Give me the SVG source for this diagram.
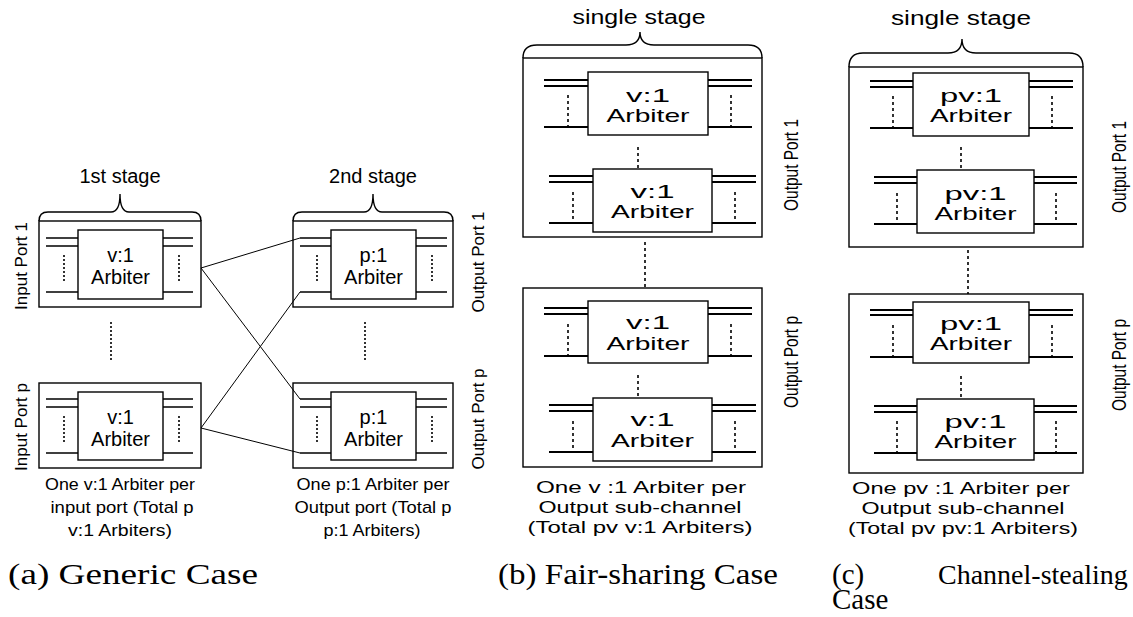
<svg xmlns="http://www.w3.org/2000/svg" width="1133" height="617" viewBox="0 0 1133 617">
<style>
.bg{fill:#fff}
.box{fill:none;stroke:#000;stroke-width:1.4}
.arb{fill:#fff;stroke:#000;stroke-width:1.4}
.ln{fill:none;stroke:#000;stroke-width:1.6}
.lnb{fill:none;stroke:#000;stroke-width:2}
.dot{fill:none;stroke:#000;stroke-width:1.6;stroke-dasharray:2 2}
.dotb{fill:none;stroke:#000;stroke-width:1.6;stroke-dasharray:3 3}
.brace{fill:none;stroke:#000;stroke-width:1.4}
.conn{fill:none;stroke:#000;stroke-width:1}
text{font-family:"Liberation Sans",Arial,sans-serif;fill:#000}
.ta{font-size:20px;text-anchor:middle}
.tb{font-size:19px;text-anchor:middle}
.st{font-size:20px;text-anchor:middle}
.pl{font-size:17px;text-anchor:middle}
.pq{font-size:21px;text-anchor:middle}
.ds{font-size:17px;text-anchor:middle}
.dsb{font-size:16px;text-anchor:middle}
.cap{font-family:"Liberation Serif","Times New Roman",serif;font-size:29px}
</style>
<rect class="bg" x="0" y="0" width="1133" height="617"/>

<!-- Panel (a) -->
<g id="a-stage1-label">
<path class="brace" d="M39,221 Q39,212 48,212 L111,212 Q120,212 120,194 Q120,212 129,212 L192,212 Q201,212 201,221"/>
<text class="st" x="120" y="183">1st stage</text>
</g>
<g id="a-stage2-label">
<path class="brace" d="M293,221 Q293,212 302,212 L364,212 Q373,212 373,194 Q373,212 382,212 L444,212 Q453,212 453,221"/>
<text class="st" x="373" y="183">2nd stage</text>
</g>

<g id="a-in1">
<rect class="box" x="39" y="221" width="162" height="86"/>
<path class="ln" d="M46,238H78M46,246H78M46,292H78M163,238H193M163,246H193M163,292H193"/>
<path class="dot" d="M64,255V283M179,255V283"/>
<rect class="arb" x="78" y="230" width="85" height="69"/>
<text class="ta" x="120.5" y="262">v:1</text>
<text class="ta" x="120.5" y="284">Arbiter</text>
<text class="pl" transform="translate(27,266) rotate(-90)">Input Port 1</text>
</g>
<g id="a-inp">
<rect class="box" x="39" y="383" width="162" height="85"/>
<path class="ln" d="M46,399H78M46,407H78M46,453H78M163,399H193M163,407H193M163,453H193"/>
<path class="dot" d="M64,416V444M179,416V444"/>
<rect class="arb" x="78" y="392" width="85" height="68"/>
<text class="ta" x="120.5" y="424">v:1</text>
<text class="ta" x="120.5" y="446">Arbiter</text>
<text class="pl" transform="translate(27,427) rotate(-90)">Input Port p</text>
</g>
<g id="a-out1">
<rect class="box" x="293" y="221" width="160" height="86"/>
<path class="ln" d="M300,238H331M300,246H331M300,292H331M416,238H447M416,246H447M416,292H447"/>
<path class="dot" d="M317,255V283M432,255V283"/>
<rect class="arb" x="331" y="230" width="85" height="69"/>
<text class="ta" x="373.5" y="262">p:1</text>
<text class="ta" x="373.5" y="284">Arbiter</text>
<text class="pl" transform="translate(484,262) rotate(-90)">Output Port 1</text>
</g>
<g id="a-outp">
<rect class="box" x="293" y="383" width="160" height="85"/>
<path class="ln" d="M300,399H331M300,407H331M300,453H331M416,399H447M416,407H447M416,453H447"/>
<path class="dot" d="M317,416V444M432,416V444"/>
<rect class="arb" x="331" y="392" width="85" height="68"/>
<text class="ta" x="373.5" y="424">p:1</text>
<text class="ta" x="373.5" y="446">Arbiter</text>
<text class="pl" transform="translate(484,419) rotate(-90)">Output Port p</text>
</g>
<g id="a-ellipsis">
<path class="dot" d="M111,322V360M365,322V360"/>
</g>
<g id="a-desc">
<text class="ds" x="120" y="490" textLength="150" lengthAdjust="spacingAndGlyphs">One v:1 Arbiter per</text>
<text class="ds" x="122" y="513" textLength="143" lengthAdjust="spacingAndGlyphs">input port (Total p</text>
<text class="ds" x="120" y="536" textLength="104" lengthAdjust="spacingAndGlyphs">v:1 Arbiters)</text>
<text class="ds" x="373" y="490" textLength="153" lengthAdjust="spacingAndGlyphs">One p:1 Arbiter per</text>
<text class="ds" x="373" y="513" textLength="157" lengthAdjust="spacingAndGlyphs">Output port (Total p</text>
<text class="ds" x="372" y="536" textLength="97" lengthAdjust="spacingAndGlyphs">p:1 Arbiters)</text>
</g>

<!-- connectors -->
<g id="connectors">
<line class="conn" x1="201" y1="268" x2="300" y2="238"/>
<line class="conn" x1="201" y1="268" x2="300" y2="399"/>
<line class="conn" x1="201" y1="428" x2="300" y2="292"/>
<line class="conn" x1="201" y1="428" x2="300" y2="453"/>
</g>

<!-- Panel (b) -->
<g id="b-label">
<path class="brace" d="M523,58 Q523,45 537,45 L626,45 Q640,45 640,32 Q640,45 654,45 L748,45 Q762,45 762,58"/>
<text class="st" x="639" y="24" textLength="133" lengthAdjust="spacingAndGlyphs">single stage</text>
</g>
<g id="b-port1">
<rect class="box" x="523" y="58" width="239" height="179"/>
<path class="dotb" d="M638,147V169"/>
<text class="pq" transform="translate(798,165) rotate(-90)" textLength="92" lengthAdjust="spacingAndGlyphs">Output Port 1</text>
</g>
<g id="b-arb1">
<path class="lnb" d="M544,80H588M544,86H588M544,127H588M708,80H752M708,86H752M708,127H752"/>
<path class="dotb" d="M568,95V127M731,95V127"/>
<rect class="arb" x="588" y="72" width="120" height="63"/>
<text class="tb" x="648" y="102" textLength="44" lengthAdjust="spacingAndGlyphs">v:1</text>
<text class="tb" x="648" y="122" textLength="83" lengthAdjust="spacingAndGlyphs">Arbiter</text>
</g>
<g id="b-arb2">
<path class="lnb" d="M549,176H593M549,182H593M549,223H593M712,176H756M712,182H756M712,223H756"/>
<path class="dotb" d="M573,192V223M735,192V223"/>
<rect class="arb" x="593" y="169" width="119" height="63"/>
<text class="tb" x="652.5" y="198" textLength="44" lengthAdjust="spacingAndGlyphs">v:1</text>
<text class="tb" x="652.5" y="218" textLength="83" lengthAdjust="spacingAndGlyphs">Arbiter</text>
</g>
<g id="b-ellipsis">
<path class="dotb" d="M645,242V288"/>
</g>
<g id="b-portp">
<rect class="box" x="523" y="288" width="239" height="179"/>
<path class="dotb" d="M638,375V397"/>
<text class="pq" transform="translate(798,362) rotate(-90)" textLength="92" lengthAdjust="spacingAndGlyphs">Output Port p</text>
</g>
<g id="b-arb3">
<path class="lnb" d="M544,308H588M544,314H588M544,356H588M708,308H752M708,314H752M708,356H752"/>
<path class="dotb" d="M568,324V356M731,324V356"/>
<rect class="arb" x="588" y="301" width="120" height="62"/>
<text class="tb" x="648" y="329" textLength="44" lengthAdjust="spacingAndGlyphs">v:1</text>
<text class="tb" x="648" y="350" textLength="83" lengthAdjust="spacingAndGlyphs">Arbiter</text>
</g>
<g id="b-arb4">
<path class="lnb" d="M549,405H593M549,411H593M549,452H593M712,405H756M712,411H756M712,452H756"/>
<path class="dotb" d="M573,421V452M735,421V452"/>
<rect class="arb" x="593" y="398" width="119" height="63"/>
<text class="tb" x="652.5" y="426" textLength="44" lengthAdjust="spacingAndGlyphs">v:1</text>
<text class="tb" x="652.5" y="447" textLength="83" lengthAdjust="spacingAndGlyphs">Arbiter</text>
</g>
<g id="b-desc">
<text class="dsb" x="641" y="493" textLength="210" lengthAdjust="spacingAndGlyphs">One v :1 Arbiter per</text>
<text class="dsb" x="640" y="513" textLength="203" lengthAdjust="spacingAndGlyphs">Output sub-channel</text>
<text class="dsb" x="640" y="533" textLength="225" lengthAdjust="spacingAndGlyphs">(Total pv v:1 Arbiters)</text>
</g>

<!-- Panel (c) -->
<g id="c-label">
<path class="brace" d="M849,67 Q849,53 863,53 L948,53 Q962,53 962,39 Q962,53 976,53 L1069,53 Q1083,53 1083,67"/>
<text class="st" x="961" y="25" textLength="140" lengthAdjust="spacingAndGlyphs">single stage</text>
</g>
<g id="c-port1">
<rect class="box" x="849" y="67" width="234" height="180"/>
<path class="dotb" d="M961,147V169"/>
<text class="pq" transform="translate(1126,167) rotate(-90)" textLength="92" lengthAdjust="spacingAndGlyphs">Output Port 1</text>
</g>
<g id="c-arb1">
<path class="lnb" d="M870,81H913M870,87H913M870,128H913M1029,81H1073M1029,87H1073M1029,128H1073"/>
<path class="dotb" d="M893,96V128M1052,96V128"/>
<rect class="arb" x="913" y="73" width="116" height="63"/>
<text class="tb" x="971" y="102" textLength="62" lengthAdjust="spacingAndGlyphs">pv:1</text>
<text class="tb" x="971" y="122" textLength="82" lengthAdjust="spacingAndGlyphs">Arbiter</text>
</g>
<g id="c-arb2">
<path class="lnb" d="M874,177H917M874,183H917M874,224H917M1034,177H1077M1034,183H1077M1034,224H1077"/>
<path class="dotb" d="M897,193V224M1056,193V224"/>
<rect class="arb" x="917" y="170" width="117" height="63"/>
<text class="tb" x="975.5" y="200" textLength="62" lengthAdjust="spacingAndGlyphs">pv:1</text>
<text class="tb" x="975.5" y="220" textLength="82" lengthAdjust="spacingAndGlyphs">Arbiter</text>
</g>
<g id="c-ellipsis">
<path class="dotb" d="M968,250V294"/>
</g>
<g id="c-portp">
<rect class="box" x="849" y="294" width="234" height="179"/>
<path class="dotb" d="M961,376V398"/>
<text class="pq" transform="translate(1126,365) rotate(-90)" textLength="92" lengthAdjust="spacingAndGlyphs">Output Port p</text>
</g>
<g id="c-arb3">
<path class="lnb" d="M870,310H913M870,315H913M870,357H913M1029,310H1073M1029,315H1073M1029,357H1073"/>
<path class="dotb" d="M893,325V357M1052,325V357"/>
<rect class="arb" x="913" y="302" width="116" height="61"/>
<text class="tb" x="971" y="330" textLength="62" lengthAdjust="spacingAndGlyphs">pv:1</text>
<text class="tb" x="971" y="350" textLength="82" lengthAdjust="spacingAndGlyphs">Arbiter</text>
</g>
<g id="c-arb4">
<path class="lnb" d="M874,406H917M874,412H917M874,453H917M1034,406H1077M1034,412H1077M1034,453H1077"/>
<path class="dotb" d="M897,421V453M1056,421V453"/>
<rect class="arb" x="917" y="399" width="117" height="61"/>
<text class="tb" x="975.5" y="428" textLength="62" lengthAdjust="spacingAndGlyphs">pv:1</text>
<text class="tb" x="975.5" y="448" textLength="82" lengthAdjust="spacingAndGlyphs">Arbiter</text>
</g>
<g id="c-desc">
<text class="dsb" x="961" y="494" textLength="218" lengthAdjust="spacingAndGlyphs">One pv :1 Arbiter per</text>
<text class="dsb" x="963" y="514" textLength="203" lengthAdjust="spacingAndGlyphs">Output sub-channel</text>
<text class="dsb" x="963" y="534" textLength="230" lengthAdjust="spacingAndGlyphs">(Total pv pv:1 Arbiters)</text>
</g>

<!-- Captions -->
<g id="captions">
<text class="cap" x="8" y="584" textLength="250" lengthAdjust="spacingAndGlyphs">(a) Generic Case</text>
<text class="cap" x="498" y="584" textLength="280" lengthAdjust="spacingAndGlyphs">(b) Fair-sharing Case</text>
<text class="cap" x="832" y="584">(c)</text>
<text class="cap" x="938" y="584" style="font-size:28px">Channel-stealing</text>
<text class="cap" x="832" y="609">Case</text>
</g>
</svg>
